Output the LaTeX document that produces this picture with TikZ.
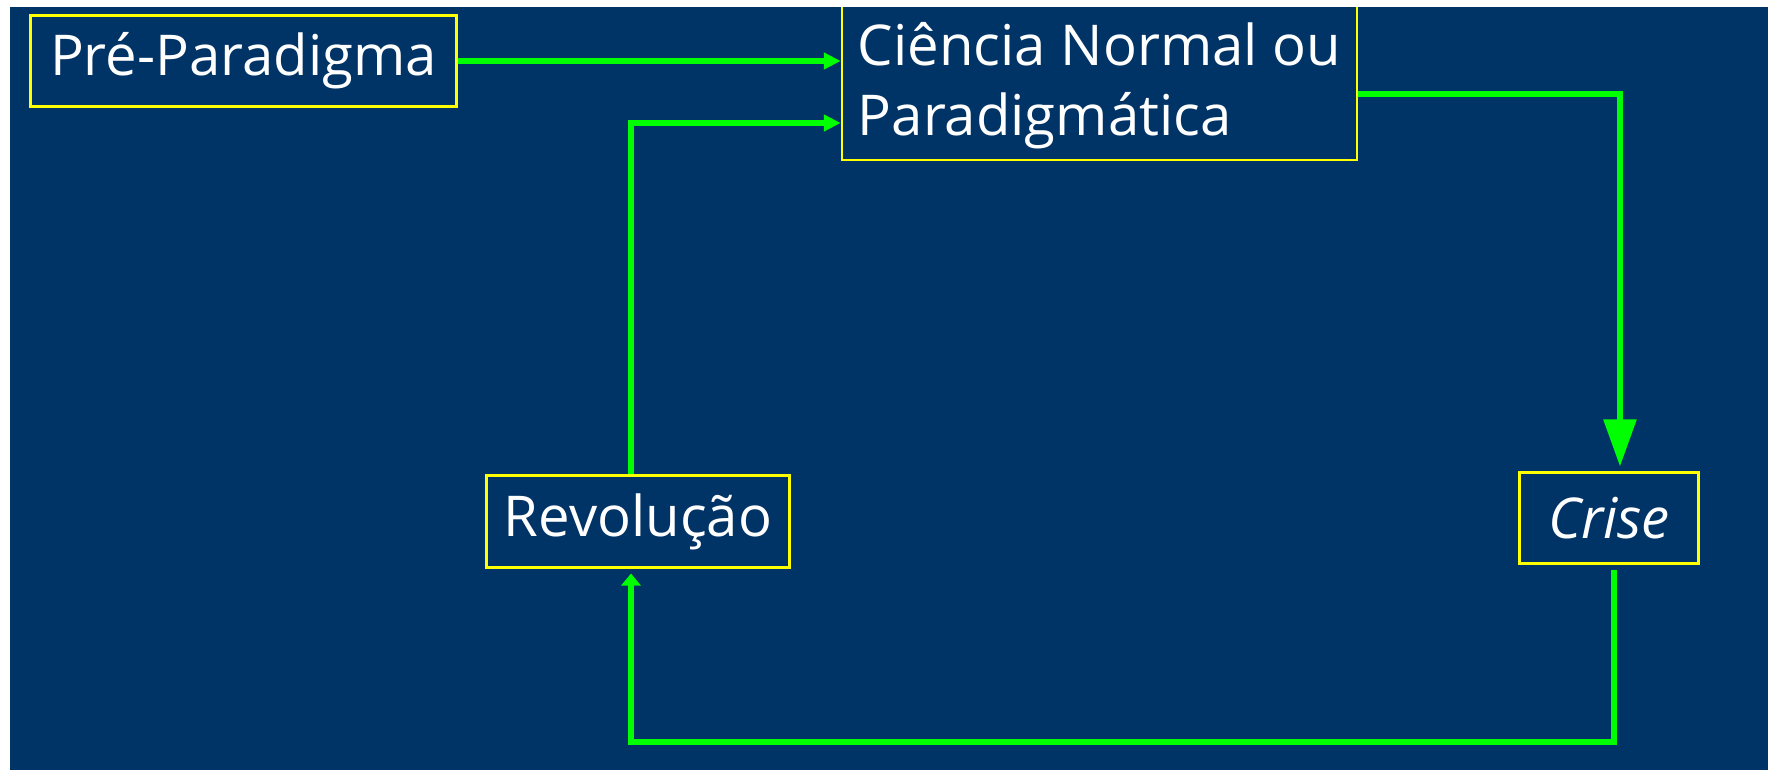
\documentclass[tikz,border=0pt]{standalone}
\usepackage{fontspec}
\setmainfont{Open Sans}
\usetikzlibrary{arrows.meta}
\definecolor{slide}{RGB}{0,51,102}
\definecolor{boxline}{RGB}{255,255,0}
\definecolor{flowgreen}{RGB}{0,255,0}

\begin{document}
\begin{tikzpicture}[x=0.01cm,y=-0.01cm]
\tikzstyle{every node}+=[inner sep=0pt, text=white, font=\fontsize{16}{19.9}\selectfont]
\tikzstyle{stage}=[draw=boxline, line width=0.85pt]
\tikzstyle{flow}=[draw=flowgreen, line width=1.6pt]
\useasboundingbox (0,0) rectangle (1768,770);
\fill [slide] (0,0) rectangle (1768,770);
% stages
\node [stage, minimum width=4.25cm, minimum height=0.91cm] (pre) at (243.5,61) {Pré-Paradigma};
\node [stage, line width=0.6pt, minimum width=5.15cm, inner ysep=0.11cm, align=left, anchor=south] (cien) at (1099.5,161)
  {\rule{0pt}{0.7cm}Ciência Normal ou\\Paradigmática};
\node [stage, minimum width=3.02cm, minimum height=0.91cm] (rev) at (638,521.5) {Revolução};
\node [stage, minimum width=1.78cm, minimum height=0.9cm] (crise) at (1609,518) {\itshape Crise};
% turning points
\coordinate (turn1) at (1620,94);
\coordinate (turn2) at (1614,742);
\coordinate (turn3) at (631,742);
\coordinate (turn4) at (631,123);
% arrows
\draw [flow, -{Triangle[length=0.17cm,width=0.16cm]}] (pre.east) -- (pre.east -| cien.west);
\draw [flow, -{Triangle[length=0.47cm,width=0.32cm]}, shorten >=0.05cm] (cien.east |- turn1) -- (turn1) -- (turn1 |- crise.north);
\draw [flow, -{Triangle[length=0.12cm,width=0.19cm]}, shorten <=0.05cm, shorten >=0.05cm] (turn2 |- crise.south) -- (turn2) -- (turn3) -- (turn3 |- rev.south);
\draw [flow, -{Triangle[length=0.17cm,width=0.16cm]}] (turn4 |- rev.north) -- (turn4) -- (turn4 -| cien.west);
% white margin of the slide
\fill [white] (0,0) rectangle (1768,7);
\fill [white] (0,0) rectangle (10,770);
\end{tikzpicture}
\end{document}
